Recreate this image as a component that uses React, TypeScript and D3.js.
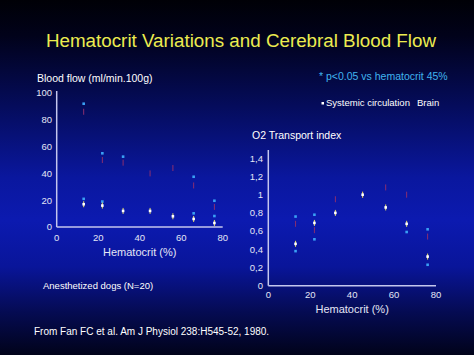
import React from "react";
import * as d3 from "d3";

const hematocrit = [13, 22, 32, 45, 56, 66, 76];
const flowBrain = [86, 50, 48, 40, 44, 31, 15];
const flowSystemic = [17, 16, 12, 12, 8, 6, 3];
const flowStarX = [13, 22, 32, 66, 76, 13, 22, 66, 76];
const flowStarY = [92, 55, 52.5, 37.5, 19.6, 21, 19, 10.2, 8.2];

const o2Brain = [0.68, 0.61, 0.95, 1.0, 1.08, 1.0, 0.54];
const o2Systemic = [0.46, 0.69, 0.8, 1.0, 0.86, 0.68, 0.32];
const o2StarX = [13, 13, 22, 22, 66, 76, 76];
const o2StarY = [0.76, 0.38, 0.78, 0.51, 0.59, 0.62, 0.23];

const xTicks = [0, 20, 40, 60, 80];
const flowTicks = [0, 20, 40, 60, 80, 100];
const o2Ticks = [0, 0.2, 0.4, 0.6, 0.8, 1, 1.2, 1.4];

const FONT = "'Liberation Sans', Arial, sans-serif";
const AXIS = "#c4c6ee";
const LABEL = "#e4e6f6";
const STAR = "#3aa0f4";
const BRAIN = "#8a2e70";
const SYS = "#e8e060";

function Panel({ x, y, yTicks, fmt, brain, systemic, starX, starY, axisTop, labelRight, xLabelY, tickLabelY }) {
  const [x0, x1] = x.range();
  const y0 = y.range()[0];
  return (
    <g fontFamily={FONT}>
      <line x1={x0} x2={x0} y1={axisTop} y2={y0} stroke={AXIS} strokeWidth={1.5} />
      <line x1={x0} x2={x1} y1={y0} y2={y0} stroke={AXIS} strokeWidth={1.5} />
      {yTicks.map((t) => (
        <text key={"y" + t} x={labelRight} y={y(t) + 3.3} textAnchor="end" fontSize={9.5} fill={LABEL}>
          {fmt(t)}
        </text>
      ))}
      {xTicks.map((t) => (
        <text key={"x" + t} x={x(t)} y={tickLabelY} textAnchor="middle" fontSize={9.5} fill={LABEL}>
          {t}
        </text>
      ))}
      <text x={(x0 + x1) / 2} y={xLabelY} textAnchor="middle" fontSize={11} fill={LABEL}>
        Hematocrit (%)
      </text>
      {hematocrit.map((h, i) => (
        <line key={"b" + i} x1={x(h)} x2={x(h)} y1={y(brain[i]) - 3} y2={y(brain[i]) + 3} stroke={BRAIN} strokeWidth={1} />
      ))}
      {starX.map((h, i) => (
        <rect key={"s" + i} x={x(h) - 1.3} y={y(starY[i]) - 1.3} width={2.6} height={2.6} fill={STAR} />
      ))}
      {hematocrit.map((h, i) => (
        <g key={"sy" + i}>
          <line x1={x(h)} x2={x(h)} y1={y(systemic[i]) - 3} y2={y(systemic[i]) + 3} stroke={SYS} strokeWidth={1} />
          <rect x={x(h) - 1.3} y={y(systemic[i]) - 1.3} width={2.6} height={2.6} fill="#ffffff" />
        </g>
      ))}
    </g>
  );
}

export default function App() {
  const W = 474;
  const H = 355;
  const xL = d3.scaleLinear().domain([0, 80]).range([56.7, 222.7]);
  const yL = d3.scaleLinear().domain([0, 100]).range([227, 93]);
  const xR = d3.scaleLinear().domain([0, 80]).range([268.3, 436]);
  const yR = d3.scaleLinear().domain([0, 1.4]).range([285.7, 158.3]);
  const fmtComma = (t) => (t === 0 ? "0" : d3.format("~g")(+t.toFixed(1)).replace(".", ","));
  return (
    <svg width={W} height={H} style={{ position: "absolute", left: 0, top: 0 }}>
      <defs>
        <linearGradient id="bg" x1="0" y1="0" x2="0" y2="1">
          <stop offset="0" stopColor="#000006" />
          <stop offset="0.1" stopColor="#01021a" />
          <stop offset="0.3" stopColor="#050c5c" />
          <stop offset="0.5" stopColor="#0a179e" />
          <stop offset="0.62" stopColor="#0c1ab0" />
          <stop offset="0.75" stopColor="#09159a" />
          <stop offset="0.88" stopColor="#050b52" />
          <stop offset="1" stopColor="#01031a" />
        </linearGradient>
      </defs>
      <rect x={0} y={0} width={W} height={H} fill="url(#bg)" />
      <text x={241} y={47} textAnchor="middle" fontFamily={FONT} fontSize={18.8} fill="#ecec50">
        Hematocrit Variations and Cerebral Blood Flow
      </text>
      <text x={37} y={82} fontFamily={FONT} fontSize={10.5} fill="#ffffff">
        Blood flow (ml/min.100g)
      </text>
      <text x={319} y={80} fontFamily={FONT} fontSize={10.5} fill="#40b4ee">
        * p&lt;0.05 vs hematocrit 45%
      </text>
      <rect x={321.5} y={102} width={2.5} height={2.5} fill="#ffffff" />
      <text x={326} y={106} fontFamily={FONT} fontSize={9.5} fill="#ffffff">
        Systemic circulation
      </text>
      <text x={417} y={106} fontFamily={FONT} fontSize={9.5} fill="#ffffff">
        Brain
      </text>
      <text x={252} y={139} fontFamily={FONT} fontSize={10.5} fill="#ffffff">
        O2 Transport index
      </text>
      <Panel
        x={xL}
        y={yL}
        yTicks={flowTicks}
        fmt={(t) => String(t)}
        brain={flowBrain}
        systemic={flowSystemic}
        starX={flowStarX}
        starY={flowStarY}
        axisTop={91}
        labelRight={52}
        xLabelY={256}
        tickLabelY={241}
      />
      <Panel
        x={xR}
        y={yR}
        yTicks={o2Ticks}
        fmt={fmtComma}
        brain={o2Brain}
        systemic={o2Systemic}
        starX={o2StarX}
        starY={o2StarY}
        axisTop={150}
        labelRight={263}
        xLabelY={313}
        tickLabelY={298}
      />
      <text x={43} y={289} fontFamily={FONT} fontSize={9.5} fill="#ffffff">
        Anesthetized dogs (N=20)
      </text>
      <text x={34} y={335} fontFamily={FONT} fontSize={10} fill="#ffffff">
        From Fan FC et al. Am J Physiol 238:H545-52, 1980.
      </text>
    </svg>
  );
}
